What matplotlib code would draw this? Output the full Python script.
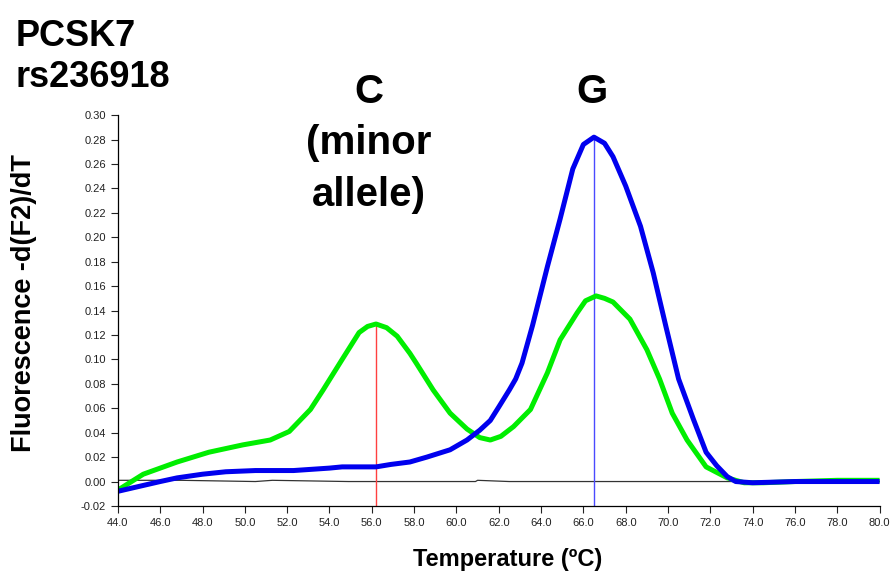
import numpy as np
import matplotlib
matplotlib.use("Agg")
import matplotlib.pyplot as plt
from matplotlib.ticker import FormatStrFormatter, MultipleLocator

plt.rcParams['font.family'] = ['Liberation Sans', 'DejaVu Sans']

# Melt curve data
green_temp = [44.0, 45.2, 46.8, 48.3, 49.9, 51.2, 52.1, 53.1, 53.7, 54.6, 55.4, 55.8, 56.2,
              56.7, 57.2, 57.8, 58.1, 58.9, 59.7, 60.5, 61.1, 61.6, 62.1, 62.7, 63.5, 64.3,
              64.9, 65.7, 66.1, 66.6, 67.0, 67.4, 68.2, 69.0, 69.6, 70.2, 70.9, 71.8, 72.8,
              73.6, 74.5, 76.0, 78.0, 80.0]
green_val = [-0.007, 0.006, 0.016, 0.024, 0.030, 0.034, 0.041, 0.059, 0.075, 0.100, 0.122, 0.127, 0.129,
             0.126, 0.119, 0.105, 0.097, 0.075, 0.056, 0.043, 0.036, 0.034, 0.037, 0.045, 0.059, 0.089,
             0.116, 0.138, 0.148, 0.152, 0.150, 0.147, 0.133, 0.108, 0.084, 0.056, 0.034, 0.012, 0.003,
             -0.001, -0.001, 0.000, 0.001, 0.001]

blue_temp = [44.0, 45.0, 46.0, 46.8, 48.0, 49.1, 50.5, 52.3, 54.0, 54.6, 56.2, 56.9, 57.8,
             58.6, 59.7, 60.5, 61.1, 61.6, 62.0, 62.5, 62.8, 63.1, 63.6, 64.3, 64.9, 65.5,
             66.0, 66.5, 67.0, 67.4, 68.0, 68.7, 69.3, 69.9, 70.5, 71.2, 71.8, 72.3, 72.8,
             73.2, 74.0, 76.0, 78.0, 80.0]
blue_val = [-0.008, -0.004, 0.000, 0.003, 0.006, 0.008, 0.009, 0.009, 0.011, 0.012, 0.012, 0.014, 0.016,
            0.020, 0.026, 0.034, 0.042, 0.050, 0.061, 0.075, 0.084, 0.097, 0.128, 0.176, 0.215, 0.256,
            0.276, 0.282, 0.277, 0.266, 0.242, 0.209, 0.171, 0.127, 0.084, 0.051, 0.024, 0.013, 0.004,
            0.000, -0.001, 0.000, 0.000, 0.000]

base_temp = [44.0, 47.0, 50.5, 51.3, 54.9, 60.9, 61.0, 62.5, 64.5, 80.0]
base_val = [0.001, 0.001, 0.000, 0.001, 0.000, 0.000, 0.001, 0.000, 0.000, 0.000]

peak_c = (56.2, 0.129)
peak_g = (66.5, 0.282)

fig = plt.figure(figsize=(8.93, 5.73), dpi=100)
ax = fig.add_axes([0.132, 0.117, 0.853, 0.682])

ax.plot(base_temp, base_val, color='#333333', lw=0.9)
ax.vlines(peak_c[0], -0.02, peak_c[1], color='#ff4040', lw=1.0)
ax.vlines(peak_g[0], -0.02, peak_g[1], color='#4a4aff', lw=1.0)
ax.plot(green_temp, green_val, color='#00ee00', lw=3.6, solid_capstyle='butt')
ax.plot(blue_temp, blue_val, color='#0000ee', lw=3.6, solid_capstyle='butt')

ax.set_xlim(44, 80)
ax.set_ylim(-0.02, 0.30)
ax.xaxis.set_major_locator(MultipleLocator(2))
ax.yaxis.set_major_locator(MultipleLocator(0.02))
ax.xaxis.set_major_formatter(FormatStrFormatter('%.1f'))
ax.yaxis.set_major_formatter(FormatStrFormatter('%.2f'))
ax.tick_params(labelsize=8, length=5, width=0.8, colors='#222222')
for side in ['top', 'right']:
    ax.spines[side].set_visible(False)
for side in ['left', 'bottom']:
    ax.spines[side].set_linewidth(0.9)

ax.set_xlabel('Temperature (ºC)', fontsize=17, fontweight='bold')
ax.xaxis.set_label_coords(0.512, -0.108)
fig.text(0.027, 0.471, 'Fluorescence -d(F2)/dT', fontsize=19.5, fontweight='bold',
         rotation=90, ha='center', va='center')

fig.text(0.017, 0.966, 'PCSK7\nrs236918', fontsize=26, fontweight='bold', va='top', ha='left',
         linespacing=1.2)
fig.text(0.413, 0.873, 'C\n(minor\nallele)', fontsize=29, fontweight='bold', va='top', ha='center',
         linespacing=1.45)
fig.text(0.663, 0.873, 'G', fontsize=29, fontweight='bold', va='top', ha='center')

fig.savefig('out.png', dpi=100)
